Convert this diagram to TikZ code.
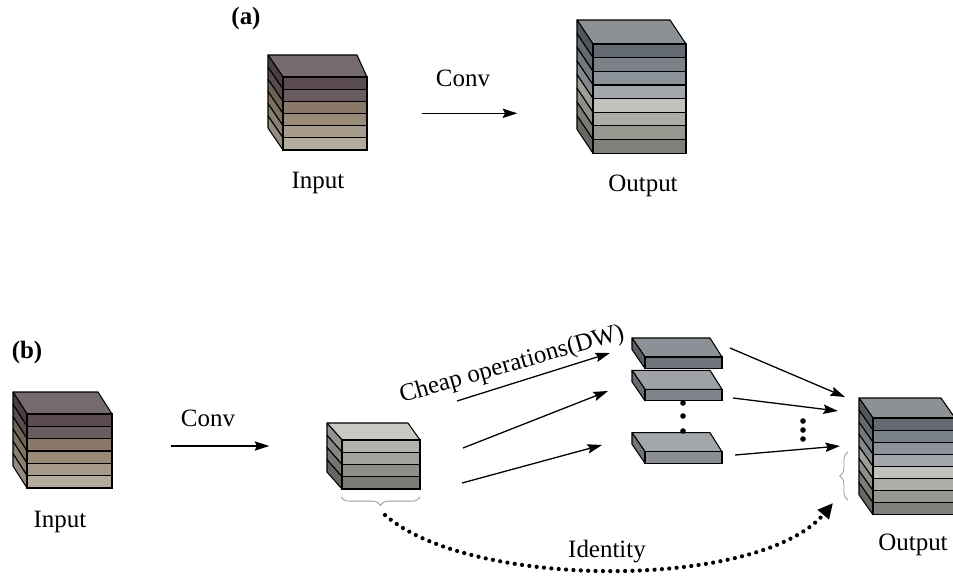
\documentclass[tikz,border=0pt]{standalone}
\usepackage{fontspec}
\setmainfont{Liberation Serif}
\usetikzlibrary{arrows.meta,decorations.pathreplacing}

% layer colours
\definecolor{inTop}{HTML}{756A6E}
\definecolor{inA}{HTML}{5B4B52}
\definecolor{inB}{HTML}{6B5D5F}
\definecolor{inC}{HTML}{8A7869}
\definecolor{inD}{HTML}{9A8A78}
\definecolor{inE}{HTML}{A69A8A}
\definecolor{inF}{HTML}{B4AB9C}
\definecolor{outTop}{HTML}{8C9196}
\definecolor{outA}{HTML}{646A72}
\definecolor{outB}{HTML}{7A8189}
\definecolor{outC}{HTML}{8B929A}
\definecolor{outD}{HTML}{A3A6AA}
\definecolor{outE}{HTML}{C2C2BC}
\definecolor{outF}{HTML}{ADADA8}
\definecolor{outG}{HTML}{97978F}
\definecolor{outH}{HTML}{7F807B}
\definecolor{midTop}{HTML}{C9C9C4}
\definecolor{midA}{HTML}{B3B3AD}
\definecolor{midB}{HTML}{A2A29E}
\definecolor{midC}{HTML}{8E8E8A}
\definecolor{midD}{HTML}{7B7B77}
\definecolor{slabTopA}{HTML}{8D9197}
\definecolor{slabA}{HTML}{6F747B}
\definecolor{slabTopB}{HTML}{9EA2A7}
\definecolor{slabB}{HTML}{7F848B}
\definecolor{slabTopC}{HTML}{A2A6AA}
\definecolor{slabC}{HTML}{8A8E92}
\definecolor{braceGray}{HTML}{9A9A9A}

% stack of feature-map layers seen from the upper left
% #1,#2 front top-left corner, #3 width, #4 layer height,
% #5,#6 depth offset on the left, #7 depth offset x on the right,
% #8 top colour, #9 list of layer colours
\newcommand\layerstack[9]{%
  \filldraw[fill=#8, draw=black, line width=0.9pt, line join=round]
    (#1,#2) -- ++(#5,#6) -- ({#1+#3+#7},{#2+#6}) -- ({#1+#3},#2) -- cycle;
  \foreach \c [count=\i from 0] in {#9}{
    \filldraw[fill=\c!82!black, draw=black, line width=0.9pt, line join=round]
      ({#1},{#2+\i*#4}) -- ++(#5,#6) -- ++(0,#4) -- ++({-(#5)},{-(#6)}) -- cycle;
    \filldraw[fill=\c, draw=black, line width=0.9pt]
      ({#1},{#2+\i*#4}) rectangle ++(#3,#4);
  }%
}

\tikzset{
  lbl/.style={font=\fontsize{21.3}{24}\selectfont, inner sep=0pt},
  tag/.style={font=\fontsize{21.3}{24}\selectfont\bfseries, inner sep=0pt},
  flow/.style={line width=1.1pt, -{Stealth[length=12.5pt,width=8pt,inset=2pt]}},
  brc/.style={draw=braceGray, line width=0.7pt, decorate,
              decoration={brace, amplitude=7pt}},
  dotmark/.style={circle, fill=black, inner sep=0pt, minimum size=4.8pt},
}

\begin{document}
\begin{tikzpicture}[x=0.03cm, y=-0.03cm]
\useasboundingbox (0,0) rectangle (953,578);

% ---------- (a) ordinary convolution ----------
\node[tag] (taga) at (246,18) {(a)};
\layerstack{283}{77}{84}{12.17}{-15}{-22}{-10}{inTop}{inA,inB,inC,inD,inE,inF}
\layerstack{593}{44}{93}{13.66}{-16}{-24}{-16}{outTop}{outA,outB,outC,outD,outE,outF,outG,outH}
\node[lbl] (ina) at (318,183) {Input};
\node[lbl] (outa) at (643,186) {Output};
\node[lbl] (conva) at (463,78) {Conv};
\coordinate (ca1) at (421.7,113.3);
\coordinate (ca2) at (517.3,113.3);
\draw[flow] (ca1) -- (ca2);

% ---------- (b) Ghost module ----------
\node[tag] (tagb) at (27,352) {(b)};
\layerstack{27}{414}{85}{12.33}{-14}{-22}{-14}{inTop}{inA,inB,inC,inD,inE,inF}
\node[lbl] (inb) at (60,522) {Input};
\node[lbl] (convb) at (208,418) {Conv};
\coordinate (cb1) at (170.7,446);
\coordinate (cb2) at (269.3,446);
\draw[flow] (cb1) -- (cb2);

% intrinsic feature maps
\layerstack{342}{440}{78}{12.25}{-15}{-17}{-12}{midTop}{midA,midB,midC,midD}
\coordinate (mb1) at (420,497);
\coordinate (mb2) at (341,497);
\draw[brc] (mb1) -- (mb2);

% ghost feature maps
\layerstack{645}{357}{77}{11.5}{-13}{-19}{-12}{slabTopA}{slabA}
\layerstack{645}{389.3}{77}{11.5}{-13}{-19}{-12}{slabTopB}{slabB}
\layerstack{645}{451.7}{77}{11.5}{-13}{-19}{-12}{slabTopC}{slabC}
\node[dotmark] (d1) at (683,403) {};
\node[dotmark] (d2) at (683,416) {};
\node[dotmark] (d3) at (683,431) {};

% cheap operations
\node[lbl, rotate=16] (cheap) at (512,365) {Cheap operations(DW)};
\coordinate (s1) at (457,401);  \coordinate (t1) at (610,353);
\coordinate (s2) at (463,448);  \coordinate (t2) at (608,391);
\coordinate (s3) at (462,483);  \coordinate (t3) at (602,445);
\draw[flow] (s1) -- (t1);
\draw[flow] (s2) -- (t2);
\draw[flow] (s3) -- (t3);

% into the output
\coordinate (u1) at (730,348);  \coordinate (v1) at (845,397);
\coordinate (u2) at (733,398);  \coordinate (v2) at (838,411);
\coordinate (u3) at (735,455);  \coordinate (v3) at (840,446);
\draw[flow] (u1) -- (v1);
\draw[flow] (u2) -- (v2);
\draw[flow] (u3) -- (v3);
\node[dotmark] (e1) at (803,421) {};
\node[dotmark] (e2) at (803,430) {};
\node[dotmark] (e3) at (803,439) {};

% output feature maps
\layerstack{873}{418}{82}{12.1}{-14}{-20}{-14}{outTop}{outA,outB,outC,outD,outE,outF,outG,outH}
\node[lbl] (outb) at (913,545) {Output};
\coordinate (ob1) at (848,500);
\coordinate (ob2) at (848,452);
\draw[brc] (ob1) -- (ob2);

% identity shortcut
\coordinate (idS) at (385,515);
\coordinate (idT) at (833,503);
\draw[line width=3.6pt, line cap=round, dash pattern=on 0pt off 6.3pt,
      -{Triangle[length=13pt,width=12pt]}]
  (idS) .. controls (470,590) and (760,590) .. (idT);
\node[lbl] (ident) at (607,552) {Identity};
\end{tikzpicture}
\end{document}
